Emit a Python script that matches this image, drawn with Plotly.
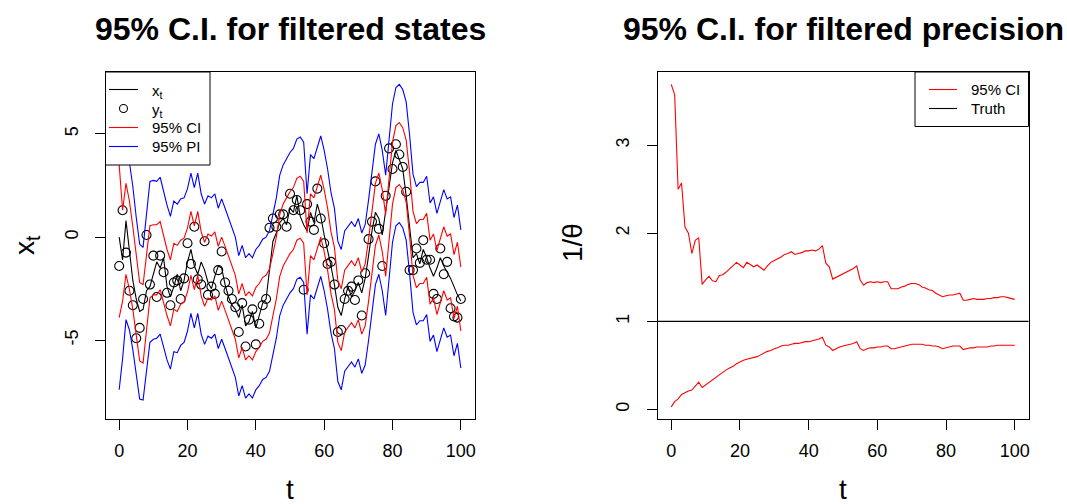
import plotly.graph_objects as go

# time index
t = list(range(101))

# latent states x_t
x_true = [0.0, -1.1, 0.8, -0.6, -2.1, -3.0, -3.6, -3.5, -2.6, -2.4,
          -1.8, -1.2, -1.5, -1.0, -2.4, -2.9, -2.4, -1.8, -2.6, -2.1,
          -1.2, -0.6, -1.4, -1.8, -1.2, -1.6, -2.2, -2.5, -1.9, -1.4,
          -1.5, -2.3, -2.9, -3.3, -3.5, -3.9, -3.3, -4.3, -4.1, -3.6,
          -4.4, -3.8, -3.2, -3.0, -1.6, -0.2, 0.2, 0.7, 0.9, 0.6,
          1.4, 1.2, 2.0, 1.0, 0.6, 0.3, 1.2, 0.7, 1.6, 1.0,
          0.1, -0.6, -1.4, -2.3, -3.4, -3.8, -3.0, -2.4, -2.9, -2.6,
          -2.2, -2.7, -2.0, -0.9, 0.3, 1.2, 0.9, 0.1, 1.2, 2.4,
          3.6, 4.2, 3.7, 3.3, 2.0, 0.4, -1.0, -0.8, -1.3, -0.6,
          -1.0, -1.5, -1.9, -1.5, -1.0, -1.4, -1.7, -2.0, -2.4, -2.8,
          -3.1]

# observations y_t
y_obs = [-1.4, 1.3, -0.75, -2.6, -3.3, -4.9, -4.4, -3.0, 0.1, -2.3,
         -0.9, -2.9, -0.9, -1.7, -2.7, -3.3, -2.2, -2.1, -3.0, -2.0,
         -0.3, -1.3, 0.5, -2.05, -2.3, -0.2, -2.8, -2.4, -2.75, -1.6,
         -0.7, -2.2, -2.6, -3.0, -3.4, -4.6, -3.2, -5.3, -4.0, -3.5,
         -5.2, -4.2, -3.3, -3.0, 0.45, 0.9, 0.5, 1.1, 1.1, 0.5,
         2.1, 1.3, 1.8, 1.3, -2.55, 1.6, 0.75, 0.35, 2.35, 0.9,
         -0.3, -1.3, -1.2, -2.3, -4.6, -4.5, -3.0, -2.6, -2.4, -3.05,
         -2.1, -3.8, -1.75, -0.1, 0.75, 2.7, 0.4, -1.4, 2.0, 4.3,
         3.3, 4.5, 4.0, 3.4, 2.2, -1.6, -1.6, -0.55, -1.25, -0.15,
         -1.1, -1.1, -2.75, -3.0, -0.55, -1.8, -1.2, -3.45, -3.85, -3.9,
         -3.0]

# filtered mean of the state
filt_mean = [-0.2, -0.9, 0.4, -0.4, -1.5, -2.9, -4.1, -4.2, -2.7, -1.2,
             -1.1, -1.1, -0.9, -1.6, -2.2, -2.7, -1.9, -2.0, -1.7, -1.6,
             -1.1, -0.3, -1.0, -0.3, -1.3, -1.8, -1.4, -1.5, -1.3, -2.0,
             -1.55, -2.0, -2.5, -3.0, -3.4, -4.3, -3.8, -4.4, -4.2, -4.4,
             -4.0, -3.8, -3.5, -3.4, -3.1, -2.3, -1.5, -0.4, 0.1, 0.4,
             0.7, 0.9, 1.35, 1.45, 1.2, -1.3, 0.6, 0.4, 1.0, 1.5,
             0.8, -0.1, -1.25, -2.0, -3.6, -4.0, -3.1, -2.9, -2.65, -2.9,
             -2.5, -3.2, -2.8, -1.6, -0.2, 1.1, 1.6, 0.8, -0.4, 1.3,
             3.1, 3.9, 4.05, 3.8, 3.2, 1.6, -0.3, -0.9, -0.7, -0.7,
             -0.4, -1.7, -1.4, -2.2, -1.6, -1.05, -1.5, -1.4, -2.4, -1.8,
             -3.0]

# half-widths of the 95% credible and predictive intervals
ci_half = [3.7, 2.2, 2.2, 2.15, 2.0, 1.95, 1.9, 1.9, 1.8, 1.75,
           1.7, 1.7, 1.65, 1.65, 1.6, 1.6, 1.6, 1.6, 1.55, 1.55,
           1.55, 1.55, 1.55, 1.55, 1.55, 1.55, 1.55, 1.55, 1.55, 1.55,
           1.55, 1.55, 1.55, 1.55, 1.55, 1.55, 1.55, 1.55, 1.55, 1.55,
           1.55, 1.55, 1.55, 1.55, 1.55, 1.5, 1.5, 1.5, 1.5, 1.5,
           1.5, 1.5, 1.5, 1.5, 1.5, 1.5, 1.5, 1.5, 1.5, 1.5,
           1.5, 1.5, 1.5, 1.5, 1.5, 1.5, 1.5, 1.5, 1.5, 1.5,
           1.5, 1.5, 1.5, 1.5, 1.5, 1.5, 1.5, 1.5, 1.5, 1.5,
           1.5, 1.5, 1.5, 1.5, 1.5, 1.55, 1.55, 1.55, 1.55, 1.55,
           1.55, 1.55, 1.55, 1.55, 1.55, 1.55, 1.55, 1.55, 1.55, 1.55,
           1.55]
pi_half = [7.2, 5.0, 4.4, 4.1, 3.95, 3.85, 3.75, 3.7, 3.8, 3.9,
           3.85, 3.8, 3.8, 3.75, 3.75, 3.7, 3.65, 3.6, 3.55, 3.5,
           3.45, 3.4, 3.4, 3.4, 3.4, 3.4, 3.4, 3.4, 3.4, 3.4,
           3.4, 3.4, 3.4, 3.4, 3.4, 3.4, 3.4, 3.4, 3.4, 3.4,
           3.4, 3.4, 3.4, 3.4, 3.4, 3.4, 3.4, 3.4, 3.4, 3.4,
           3.4, 3.4, 3.4, 3.4, 3.4, 3.4, 3.4, 3.4, 3.4, 3.4,
           3.4, 3.4, 3.4, 3.4, 3.4, 3.4, 3.4, 3.4, 3.4, 3.4,
           3.4, 3.4, 3.4, 3.4, 3.4, 3.4, 3.4, 3.4, 3.4, 3.4,
           3.35, 3.35, 3.35, 3.35, 3.35, 3.35, 3.35, 3.35, 3.35, 3.35,
           3.35, 3.35, 3.35, 3.35, 3.35, 3.35, 3.35, 3.35, 3.35, 3.35,
           3.35]

# 95% interval for the filtered precision 1/theta
prec_hi = [3.69, 3.57, 2.50, 2.57, 2.07, 2.00, 1.77, 1.92, 1.95, 1.42,
           1.47, 1.51, 1.46, 1.45, 1.52, 1.53, 1.56, 1.60, 1.64, 1.67,
           1.64, 1.61, 1.67, 1.64, 1.62, 1.64, 1.61, 1.58, 1.63, 1.67,
           1.69, 1.71, 1.73, 1.76, 1.77, 1.79, 1.76, 1.77, 1.78, 1.80,
           1.80, 1.81, 1.80, 1.82, 1.86, 1.66, 1.62, 1.48, 1.50, 1.52,
           1.54, 1.56, 1.58, 1.60, 1.63, 1.47, 1.41, 1.44, 1.45, 1.44,
           1.45, 1.44, 1.45, 1.45, 1.37, 1.37, 1.37, 1.39, 1.40, 1.42,
           1.43, 1.43, 1.42, 1.39, 1.38, 1.36, 1.35, 1.32, 1.30, 1.28,
           1.29, 1.30, 1.30, 1.31, 1.32, 1.24, 1.24, 1.25, 1.26, 1.25,
           1.25, 1.25, 1.26, 1.26, 1.27, 1.27, 1.28, 1.28, 1.27, 1.26,
           1.25]
prec_lo = [0.03, 0.09, 0.12, 0.17, 0.19, 0.21, 0.22, 0.26, 0.31, 0.25,
           0.28, 0.31, 0.33, 0.36, 0.39, 0.42, 0.45, 0.47, 0.49, 0.52,
           0.54, 0.56, 0.57, 0.58, 0.59, 0.60, 0.62, 0.64, 0.66, 0.67,
           0.69, 0.70, 0.72, 0.73, 0.73, 0.74, 0.75, 0.75, 0.76, 0.77,
           0.77, 0.78, 0.79, 0.80, 0.82, 0.73, 0.71, 0.67, 0.69, 0.71,
           0.72, 0.73, 0.74, 0.75, 0.77, 0.69, 0.67, 0.69, 0.70, 0.70,
           0.71, 0.71, 0.72, 0.72, 0.69, 0.69, 0.70, 0.71, 0.72, 0.73,
           0.74, 0.74, 0.74, 0.74, 0.73, 0.73, 0.72, 0.72, 0.71, 0.69,
           0.70, 0.71, 0.72, 0.72, 0.72, 0.68, 0.69, 0.70, 0.70, 0.71,
           0.71, 0.71, 0.71, 0.72, 0.72, 0.73, 0.73, 0.73, 0.73, 0.73,
           0.73]
truth = 1.0

ci_lo = [m - h for m, h in zip(filt_mean, ci_half)]
ci_up = [m + h for m, h in zip(filt_mean, ci_half)]
pi_lo = [m - h for m, h in zip(filt_mean, pi_half)]
pi_up = [m + h for m, h in zip(filt_mean, pi_half)]

FONT = "Liberation Sans, Arial, Helvetica, sans-serif"
W, H = 1067, 504
LW = 1.1

# plot-region boxes in pixels (left, right, top, bottom)
L_BOX = (105.5, 474.5, 72, 418.5)
R_BOX = (657.5, 1028.5, 72, 418.5)


def px(xp):
    return xp / W


def py(yp):
    return 1 - yp / H


def xdom(b):
    return [px(b[0]), px(b[1])]


def ydom(b):
    return [py(b[3]), py(b[2])]


fig = go.Figure()

# left panel: states, intervals and observations
fig.add_trace(go.Scatter(x=t, y=x_true, mode="lines", name="x_t",
                         line=dict(color="black", width=LW)))
fig.add_trace(go.Scatter(x=t, y=y_obs, mode="markers", name="y_t",
                         marker=dict(symbol="circle-open", size=9, color="black",
                                     line=dict(width=1.1))))
for name, series, colour in (("95% CI upper", ci_up, "red"), ("95% CI lower", ci_lo, "red"),
                             ("95% PI upper", pi_up, "blue"), ("95% PI lower", pi_lo, "blue")):
    fig.add_trace(go.Scatter(x=t, y=series, mode="lines", name=name,
                             line=dict(color=colour, width=LW)))

# right panel: precision interval
fig.add_trace(go.Scatter(x=t, y=prec_hi, mode="lines", name="95% CI upper",
                         line=dict(color="red", width=LW), xaxis="x2", yaxis="y2"))
fig.add_trace(go.Scatter(x=t, y=prec_lo, mode="lines", name="95% CI lower",
                         line=dict(color="red", width=LW), xaxis="x2", yaxis="y2"))

axis_common = dict(showgrid=False, zeroline=False, showline=True, mirror=True,
                   linecolor="black", linewidth=1, ticks="outside", ticklen=10,
                   tickcolor="black", tickwidth=1,
                   tickfont=dict(family=FONT, size=18, color="black"))

fig.update_layout(
    width=W, height=H, margin=dict(l=0, r=0, t=0, b=0),
    paper_bgcolor="white", plot_bgcolor="white",
    font=dict(family=FONT, color="black"),
    showlegend=False,
    xaxis=dict(domain=xdom(L_BOX), range=[-4, 104], tickvals=[0, 20, 40, 60, 80, 100],
               anchor="y", ticklabelstandoff=6, **axis_common),
    yaxis=dict(domain=ydom(L_BOX), range=[-8.79, 8.0], tickvals=[-5, 0, 5],
               ticktext=["-5", "0", "5"], tickangle=-90, anchor="x",
               ticklabelstandoff=9, **axis_common),
    xaxis2=dict(domain=xdom(R_BOX), range=[-4, 104], tickvals=[0, 20, 40, 60, 80, 100],
                anchor="y2", ticklabelstandoff=6, **axis_common),
    yaxis2=dict(domain=ydom(R_BOX), range=[-0.102, 3.83], tickvals=[0, 1, 2, 3],
                tickangle=-90, anchor="x2", ticklabelstandoff=10, **axis_common),
)

shapes = []
ann = []
LEG_FONT = dict(family=FONT, size=15, color="black")

# horizontal reference line at the true precision
shapes.append(dict(type="line", xref="x2 domain", x0=0, x1=1, yref="y2",
                   y0=truth, y1=truth, line=dict(color="black", width=LW)))


# legend boxes drawn as paper-space shapes with text labels
def legend_box(x0, x1, y0, y1):
    shapes.append(dict(type="rect", xref="paper", yref="paper", layer="above",
                       x0=px(x0), x1=px(x1), y0=py(y1), y1=py(y0),
                       fillcolor="white", line=dict(color="black", width=1)))


def legend_line(x0, x1, yc, colour):
    shapes.append(dict(type="line", xref="paper", yref="paper", layer="above",
                       x0=px(x0), x1=px(x1), y0=py(yc), y1=py(yc),
                       line=dict(color=colour, width=LW)))


def legend_circle(xc, yc, r):
    shapes.append(dict(type="circle", xref="paper", yref="paper", layer="above",
                       x0=px(xc - r), x1=px(xc + r), y0=py(yc + r), y1=py(yc - r),
                       line=dict(color="black", width=1.1)))


def legend_text(x0, yc, text):
    ann.append(dict(text=text, x=px(x0), y=py(yc), xref="paper", yref="paper",
                    showarrow=False, xanchor="left", yanchor="middle", font=LEG_FONT))


# states panel legend
legend_box(105.5, 210, 72, 165)
rows = [89.5, 108.5, 127.5, 146.5]
legend_line(109, 138, rows[0], "black")
legend_circle(123.5, rows[1], 4)
legend_line(109, 138, rows[2], "red")
legend_line(109, 138, rows[3], "blue")
for yc, label in zip(rows, ["x<sub>t</sub>", "y<sub>t</sub>", "95% CI", "95% PI"]):
    legend_text(150, yc + (2 if "sub" in label else 0), label)

# precision panel legend
legend_box(915, 1028.5, 72, 126.5)
legend_line(929, 957, 89.5, "red")
legend_line(929, 957, 108.5, "black")
legend_text(969, 89.5, "95% CI")
legend_text(969, 108.5, "Truth")

# panel titles and axis titles
for box, title in ((L_BOX, "95% C.I. for filtered states"),
                   (R_BOX, "95% C.I. for filtered precision")):
    cx = px((box[0] + box[1]) / 2)
    ann.append(dict(text="<b>" + title + "</b>", x=cx, y=py(29), xref="paper",
                    yref="paper", showarrow=False, xanchor="center", yanchor="middle",
                    font=dict(family=FONT, size=32, color="black")))
    ann.append(dict(text="t", x=cx, y=py(489), xref="paper", yref="paper",
                    showarrow=False, xanchor="center", yanchor="middle",
                    font=dict(family=FONT, size=28, color="black")))
ann.append(dict(text="x<sub>t</sub>", x=px(26), y=py(245), xref="paper", yref="paper",
                showarrow=False, textangle=-90, xanchor="center", yanchor="middle",
                font=dict(family=FONT, size=28, color="black")))
ann.append(dict(text="1/θ", x=px(572), y=py(243), xref="paper", yref="paper",
                showarrow=False, textangle=-90, xanchor="center", yanchor="middle",
                font=dict(family=FONT, size=28, color="black")))

fig.update_layout(shapes=shapes, annotations=ann)

fig.write_html("out.html")
